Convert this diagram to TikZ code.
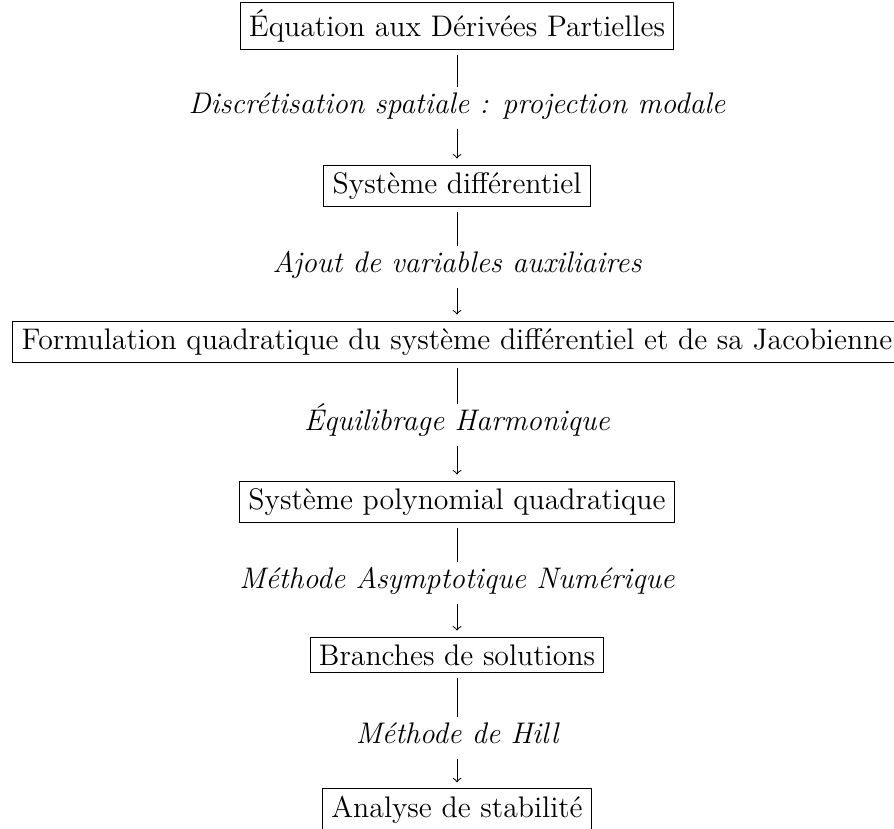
\documentclass[tikz,border=0pt]{standalone}
\usepackage{fontspec}
\begin{document}
\begin{tikzpicture}[x=0.4032pt,y=-0.4032pt,
  box/.style={draw,line width=0.4pt,inner xsep=3.5pt,inner ysep=3pt,font=\fontsize{12}{14.5}\selectfont},
  lab/.style={font=\fontsize{12}{14.5}\selectfont\itshape,inner sep=0pt,text height=8pt,text depth=3pt},
  bar/.style={line width=0.4pt,shorten <=2.02pt,shorten >=2.18pt},
  arr/.style={->,line width=0.4pt,shorten <=2.98pt,shorten >=2.42pt}]
\useasboundingbox (0,0) rectangle (894,829);
\clip (0,0) rectangle (894,829);
\node[box] (b1) at (457,26) {Équation aux Dérivées Partielles};
\node[lab] (l1) at (457,107) {Discrétisation spatiale : projection modale};
\node[box] (b2) at (457,186) {Système différentiel};
\node[lab] (l2) at (457,266) {Ajout de variables auxiliaires};
\node[box] (b3) at (457,342) {Formulation quadratique du système différentiel et de sa Jacobienne};
\node[lab] (l3) at (457,424) {Équilibrage Harmonique};
\node[box] (b4) at (457,502) {Système polynomial quadratique};
\node[lab] (l4) at (457,582) {Méthode Asymptotique Numérique};
\node[box] (b5) at (457,655) {Branches de solutions};
\node[lab] (l5) at (457,737) {Méthode de Hill};
\node[box] (b6) at (457,810) {Analyse de stabilité};
\foreach \a/\l/\b in {b1/l1/b2,b2/l2/b3,b3/l3/b4,b4/l4/b5,b5/l5/b6}{
  \draw[bar] (\a) -- (\l);
  \draw[arr] (\l) -- (\b);
}
\end{tikzpicture}
\end{document}
